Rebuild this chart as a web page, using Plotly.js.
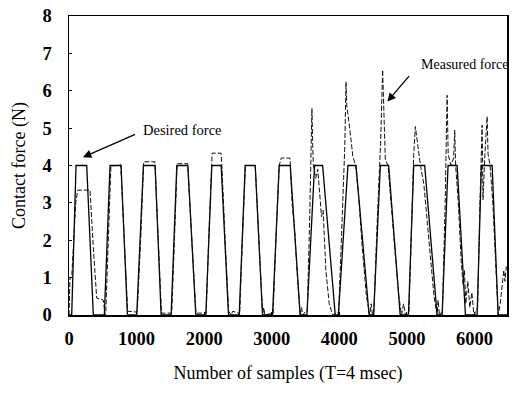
<!DOCTYPE html>
<html>
<head>
<meta charset="utf-8">
<script src="https://cdn.plot.ly/plotly-3.0.1.min.js"></script>
<style>html,body{margin:0;padding:0;background:#fff;}#chart{width:514px;height:395px;}</style>
</head>
<body>
<div id="chart"></div>
<script>
// Desired force: trapezoidal pulses (sample index, force N)
const desiredX = [0,40,104,262,360, 523,607,770,864, 1002,1101,1274,1363, 1511,1595,1758,1876,
  2024,2113,2251,2360, 2518,2607,2755,2863, 3011,3110,3273,3420, 3520,3633,3752,3939,
  3985,4127,4246,4440, 4507,4606,4729,4900, 5022,5100,5262,5446, 5520,5608,5742,5865,
  6038,6101,6260,6349, 6480];
const desiredY = [0,0,4,4,0, 0,4,4,0, 0,4,4,0, 0,4,4,0,
  0,4,4,0, 0,4,4,0, 0,4,4,0, 0,4,4,0,
  0,4,4,0, 0,4,4,0, 0,4,4,0, 0,4,4,0,
  0,4,4,0, 0];

// Measured force (sample index, force N)
const measuredX = [0,15,40,70,100,128,311,360,410,508,533,
  545,590,620,765,820,868,990,
  1010,1060,1105,1270,1320,1368,1505,
  1520,1560,1600,1755,1815,1878,2020,
  2030,2070,2110,2118,2250,2262,2310,2362,2400,2420,2515,
  2525,2565,2610,2755,2810,2865,2880,2900,3010,
  3020,3070,3110,3140,3270,3300,3340,3380,3420,3440,3460,3500,
  3525,3560,3585,3594,3605,3615,3650,3680,3720,3735,3760,3800,3850,3900,3960,
  3990,4040,4080,4098,4110,4150,4180,4200,4240,4290,4330,4400,4450,4470,4490,
  4510,4560,4610,4640,4660,4680,4720,4760,4810,4880,4920,4950,4976,
  5030,5070,5100,5124,5140,5170,5200,5250,5320,5400,5446,5460,5480,
  5525,5565,5585,5594,5610,5650,5690,5707,5720,5760,5800,5830,5850,5870,5900,5930,5960,5990,6020,
  6045,6080,6100,6112,6125,6150,6186,6200,6230,6270,6310,6349,6380,6410,6432,6450,6470];
const measuredY = [0,1.0,1.0,2.2,3.0,3.34,3.34,1.8,0.45,0.4,0,
  0.1,2.5,3.98,4.02,2.0,0.1,0.08,
  0.1,2.0,4.1,4.1,2.0,0.05,0.05,
  0.05,2.0,4.05,4.05,2.0,0.05,0.05,
  0.05,2.2,4.0,4.33,4.33,4.0,2.0,0.1,0,0.1,0.05,
  0,2.0,4.0,4.0,2.0,0,0.2,0,0.05,
  0.05,2.4,4.0,4.2,4.2,3.0,2.2,1.0,0,0.2,0,0.1,
  0.1,2.5,4.2,5.53,4.6,4.0,3.66,3.9,3.0,2.63,2.8,1.2,0.3,0,0.05,
  0.1,2.5,4.5,6.24,5.6,5.04,4.6,4.24,4.0,3.08,2.0,0.5,0,0.3,0,
  0.1,2.5,4.6,6.56,5.0,4.15,4.0,3.0,2.0,0.5,0,0.3,0,
  0.1,2.5,4.3,5.04,4.8,4.41,4.0,3.5,2.0,0.5,0,0.4,0,
  0.1,3.0,4.5,5.88,4.3,4.0,4.2,4.95,4.0,3.0,1.5,0.8,1.2,0.3,0.9,0.2,0.6,0,0.1,
  0.2,3.0,4.0,5.08,3.08,4.2,5.31,4.3,4.0,3.0,1.5,0,0.3,0.8,1.2,0.9,1.3];

const xTicks = [0,1000,2000,3000,4000,5000,6000];
const yTicks = [0,1,2,3,4,5,6,7,8];

const serif = "Liberation Serif, Times New Roman, serif";

const traces = [
  {x: desiredX, y: desiredY, type: 'scatter', mode: 'lines', name: 'Desired force',
   line: {color: '#000', width: 1.3}},
  {x: measuredX, y: measuredY, type: 'scatter', mode: 'lines', name: 'Measured force',
   line: {color: '#111', width: 1, dash: '5px,2px'}}
];

const layout = {
  width: 514, height: 395,
  margin: {l: 69, r: 7, t: 16, b: 80},
  paper_bgcolor: '#fff', plot_bgcolor: '#fff',
  showlegend: false,
  font: {family: serif, color: '#000'},
  xaxis: {
    range: [0, 6480], tickvals: xTicks, ticktext: xTicks.map(String),
    showgrid: false, zeroline: false, showline: true, mirror: true,
    linecolor: '#000', linewidth: 1.5, ticks: 'inside', ticklen: 3, tickcolor: '#000',
    ticklabelstandoff: 6,
    tickfont: {family: serif, size: 18.5, weight: 'bold', color: '#000'},
    title: {text: 'Number of samples (T=4 msec)', standoff: 18,
            font: {family: serif, size: 18, color: '#000'}}
  },
  yaxis: {
    range: [0, 8], tickvals: yTicks, ticktext: yTicks.map(String),
    showgrid: false, zeroline: false, showline: true, mirror: true,
    linecolor: '#000', linewidth: 1.5, ticks: 'inside', ticklen: 3, tickcolor: '#000',
    ticklabelstandoff: 12,
    tickfont: {family: serif, size: 18.5, weight: 'bold', color: '#000'},
    title: {text: 'Contact force (N)', standoff: 12,
            font: {family: serif, size: 18, color: '#000'}}
  },
  annotations: [
    {x: 1674, y: 4.96, xref: 'x', yref: 'y', text: 'Desired force', showarrow: false,
     font: {family: serif, size: 14.5, color: '#000'}},
    {x: 207, y: 4.22, ax: 1000, ay: 4.85, xref: 'x', yref: 'y', axref: 'x', ayref: 'y',
     text: '', showarrow: true, arrowhead: 2, arrowsize: 1.3, arrowwidth: 1.3, arrowcolor: '#000'},
    {x: 5850, y: 6.70, xref: 'x', yref: 'y', text: 'Measured force', showarrow: false,
     font: {family: serif, size: 14, color: '#000'}},
    {x: 4710, y: 5.71, ax: 5050, ay: 6.43, xref: 'x', yref: 'y', axref: 'x', ayref: 'y',
     text: '', showarrow: true, arrowhead: 2, arrowsize: 1.3, arrowwidth: 1.3, arrowcolor: '#000'}
  ]
};

Plotly.newPlot('chart', traces, layout, {staticPlot: true, displayModeBar: false});
</script>
</body>
</html>
